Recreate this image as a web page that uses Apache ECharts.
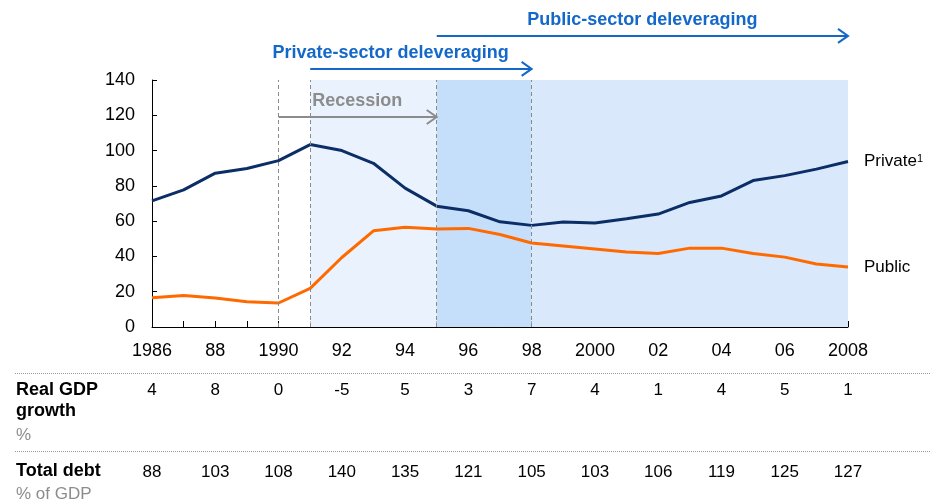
<!DOCTYPE html>
<html>
<head>
<meta charset="utf-8">
<script src="https://cdn.jsdelivr.net/npm/echarts@6/dist/echarts.min.js"></script>
<style>
  html, body { margin: 0; padding: 0; background: #fff; }
  #chart { width: 930px; height: 502px; }
</style>
</head>
<body>
<div id="chart"></div>
<script>
// years on the x axis
const years = [1986, 1987, 1988, 1989, 1990, 1991, 1992, 1993, 1994, 1995, 1996, 1997,
  1998, 1999, 2000, 2001, 2002, 2003, 2004, 2005, 2006, 2007, 2008];
// debt, % of GDP
const privateDebt = [71.5, 77.7, 87.2, 89.8, 94.3, 103.4, 100, 92.8, 78.7, 68.5, 65.9, 59.6,
  57.6, 59.5, 58.9, 61.3, 64, 70.6, 74.3, 83, 85.8, 89.5, 93.8];
const publicDebt = [16.6, 17.9, 16.4, 14.3, 13.6, 21.9, 39.4, 54.5, 56.6, 55.5, 55.9, 52.4,
  47.6, 45.9, 44.2, 42.5, 41.7, 44.7, 44.7, 41.7, 39.6, 35.7, 34];

// labelled years (axis + table columns)
const tableYears = [1986, 1988, 1990, 1992, 1994, 1996, 1998, 2000, 2002, 2004, 2006, 2008];
const xTickLabels = ['1986', '88', '1990', '92', '94', '96', '98', '2000', '02', '04', '06', '2008'];
const gdpGrowth = [4, 8, 0, -5, 5, 3, 7, 4, 1, 4, 5, 1];
const totalDebt = [88, 103, 108, 140, 135, 121, 105, 103, 106, 119, 125, 127];

// periods
const dashedYears = [1990, 1991, 1995, 1998];
const recession = [1990, 1995];
const privateDelev = [1991, 1998];
const publicDelev = [1995, 2008];

const FONT = '"Liberation Sans", Arial, sans-serif';
const NAVY = '#0B2E67';
const ORANGE = '#FF6A00';
const BLUE = '#1368C9';
const GREY = '#8C8C8C';

const chart = echarts.init(document.getElementById('chart'));

const pair = (vals) => years.map((y, i) => [y, vals[i]]);
const tableLabel = (arr) => (v) => {
  const i = tableYears.indexOf(v);
  return i >= 0 ? String(arr[i]) : '';
};

const option = {
  animation: false,
  textStyle: { fontFamily: FONT },
  grid: { left: 152, right: 82, top: 80, bottom: 175, containLabel: false, outerBoundsMode: 'none' },
  xAxis: [
    {
      type: 'value', position: 'bottom', min: 1986, max: 2008, interval: 1,
      axisLine: { lineStyle: { color: '#000', width: 1 } },
      axisTick: { inside: true, length: 6, lineStyle: { color: '#000' } },
      splitLine: { show: false },
      axisLabel: { formatter: tableLabel(xTickLabels), color: '#000', fontSize: 18, margin: 15 }
    },
    {
      type: 'value', position: 'bottom', min: 1986, max: 2008, interval: 2, offset: 55,
      axisLine: { show: false }, axisTick: { show: false }, splitLine: { show: false },
      axisLabel: { formatter: tableLabel(gdpGrowth), color: '#000', fontSize: 17, margin: 0 }
    },
    {
      type: 'value', position: 'bottom', min: 1986, max: 2008, interval: 2, offset: 137,
      axisLine: { show: false }, axisTick: { show: false }, splitLine: { show: false },
      axisLabel: { formatter: tableLabel(totalDebt), color: '#000', fontSize: 17, margin: 0 }
    }
  ],
  yAxis: {
    type: 'value', min: 0, max: 140, interval: 20,
    axisLine: { show: true, lineStyle: { color: '#000', width: 1 } },
    axisTick: { show: true, inside: true, length: 5, lineStyle: { color: '#000' } },
    splitLine: { show: false },
    axisLabel: { color: '#000', fontSize: 18, margin: 17 }
  },
  series: [
    {
      name: 'shading',
      type: 'line',
      data: [],
      silent: true,
      markArea: {
        silent: true,
        data: [
          [{ xAxis: privateDelev[0], itemStyle: { color: '#EAF3FD' } }, { xAxis: publicDelev[0] }],
          [{ xAxis: publicDelev[0], itemStyle: { color: '#C5DFFA' } }, { xAxis: privateDelev[1] }],
          [{ xAxis: privateDelev[1], itemStyle: { color: '#D9E8FB' } }, { xAxis: publicDelev[1] }]
        ]
      },
      markLine: {
        silent: true,
        symbol: 'none',
        label: { show: false },
        lineStyle: { color: '#8a8a8a', type: [4, 3], width: 1 },
        data: dashedYears.map((y) => ({ xAxis: y }))
      }
    },
    {
      name: 'Private',
      type: 'line',
      data: pair(privateDebt),
      symbol: 'none',
      lineStyle: { color: NAVY, width: 3 },
      itemStyle: { color: NAVY },
      endLabel: {
        show: true,
        distance: 16,
        formatter: 'Private{sup|1}',
        color: '#000', fontSize: 17,
        rich: { sup: { fontSize: 11, verticalAlign: 'top', color: '#000' } }
      }
    },
    {
      name: 'Public',
      type: 'line',
      data: pair(publicDebt),
      symbol: 'none',
      lineStyle: { color: ORANGE, width: 3 },
      itemStyle: { color: ORANGE },
      endLabel: { show: true, distance: 16, formatter: 'Public', color: '#000', fontSize: 17 }
    }
  ]
};
chart.setOption(option);

// annotations: arrows and row labels
const px = (x, y) => chart.convertToPixel({ gridIndex: 0 }, [x, y]);

function arrow(span, val, color, width, head) {
  const a = px(span[0], val);
  const b = px(span[1], val);
  return [
    { type: 'line', z: 100, shape: { x1: a[0], y1: a[1], x2: b[0] - 1, y2: b[1] }, style: { stroke: color, lineWidth: width } },
    {
      type: 'polyline', z: 100,
      shape: { points: [[b[0] - head, b[1] - head * 0.7], [b[0], b[1]], [b[0] - head, b[1] + head * 0.7]] },
      style: { stroke: color, lineWidth: width, fill: null }
    }
  ];
}
function label(text, x, y, font, color, align) {
  return { type: 'text', z: 100, x: x, y: y, style: { text: text, font: font, fill: color, align: align || 'left', verticalAlign: 'middle' } };
}

const pubMid = px((publicDelev[0] + publicDelev[1]) / 2, 0)[0];
const recLeft = px(privateDelev[0], 0)[0];
const privLeft = px(recession[0], 0)[0];

const graphic = [].concat(
  arrow(recession, 119, GREY, 2, 10),
  arrow(privateDelev, 146.3, BLUE, 2, 10),
  arrow(publicDelev, 165, BLUE, 2, 10),
  [
    label('Recession', recLeft + 2, px(0, 128)[1], 'bold 18px ' + FONT, GREY),
    label('Private-sector deleveraging', privLeft - 6, px(0, 155.5)[1], 'bold 18px ' + FONT, BLUE),
    label('Public-sector deleveraging', pubMid, px(0, 174)[1], 'bold 18px ' + FONT, BLUE, 'center'),
    { type: 'line', z: 100, shape: { x1: 15, y1: 373.5, x2: 930, y2: 373.5 }, style: { stroke: '#9a9a9a', lineWidth: 1, lineDash: [1, 1] } },
    { type: 'line', z: 100, shape: { x1: 15, y1: 451.5, x2: 930, y2: 451.5 }, style: { stroke: '#9a9a9a', lineWidth: 1, lineDash: [1, 1] } },
    label('Real GDP', 16, 390, 'bold 18px ' + FONT, '#000'),
    label('growth', 16, 411, 'bold 18px ' + FONT, '#000'),
    label('%', 16, 435, '17px ' + FONT, GREY),
    label('Total debt', 16, 471, 'bold 18px ' + FONT, '#000'),
    label('% of GDP', 16, 494, '17px ' + FONT, GREY)
  ]
);
chart.setOption({ graphic: graphic });
</script>
</body>
</html>
